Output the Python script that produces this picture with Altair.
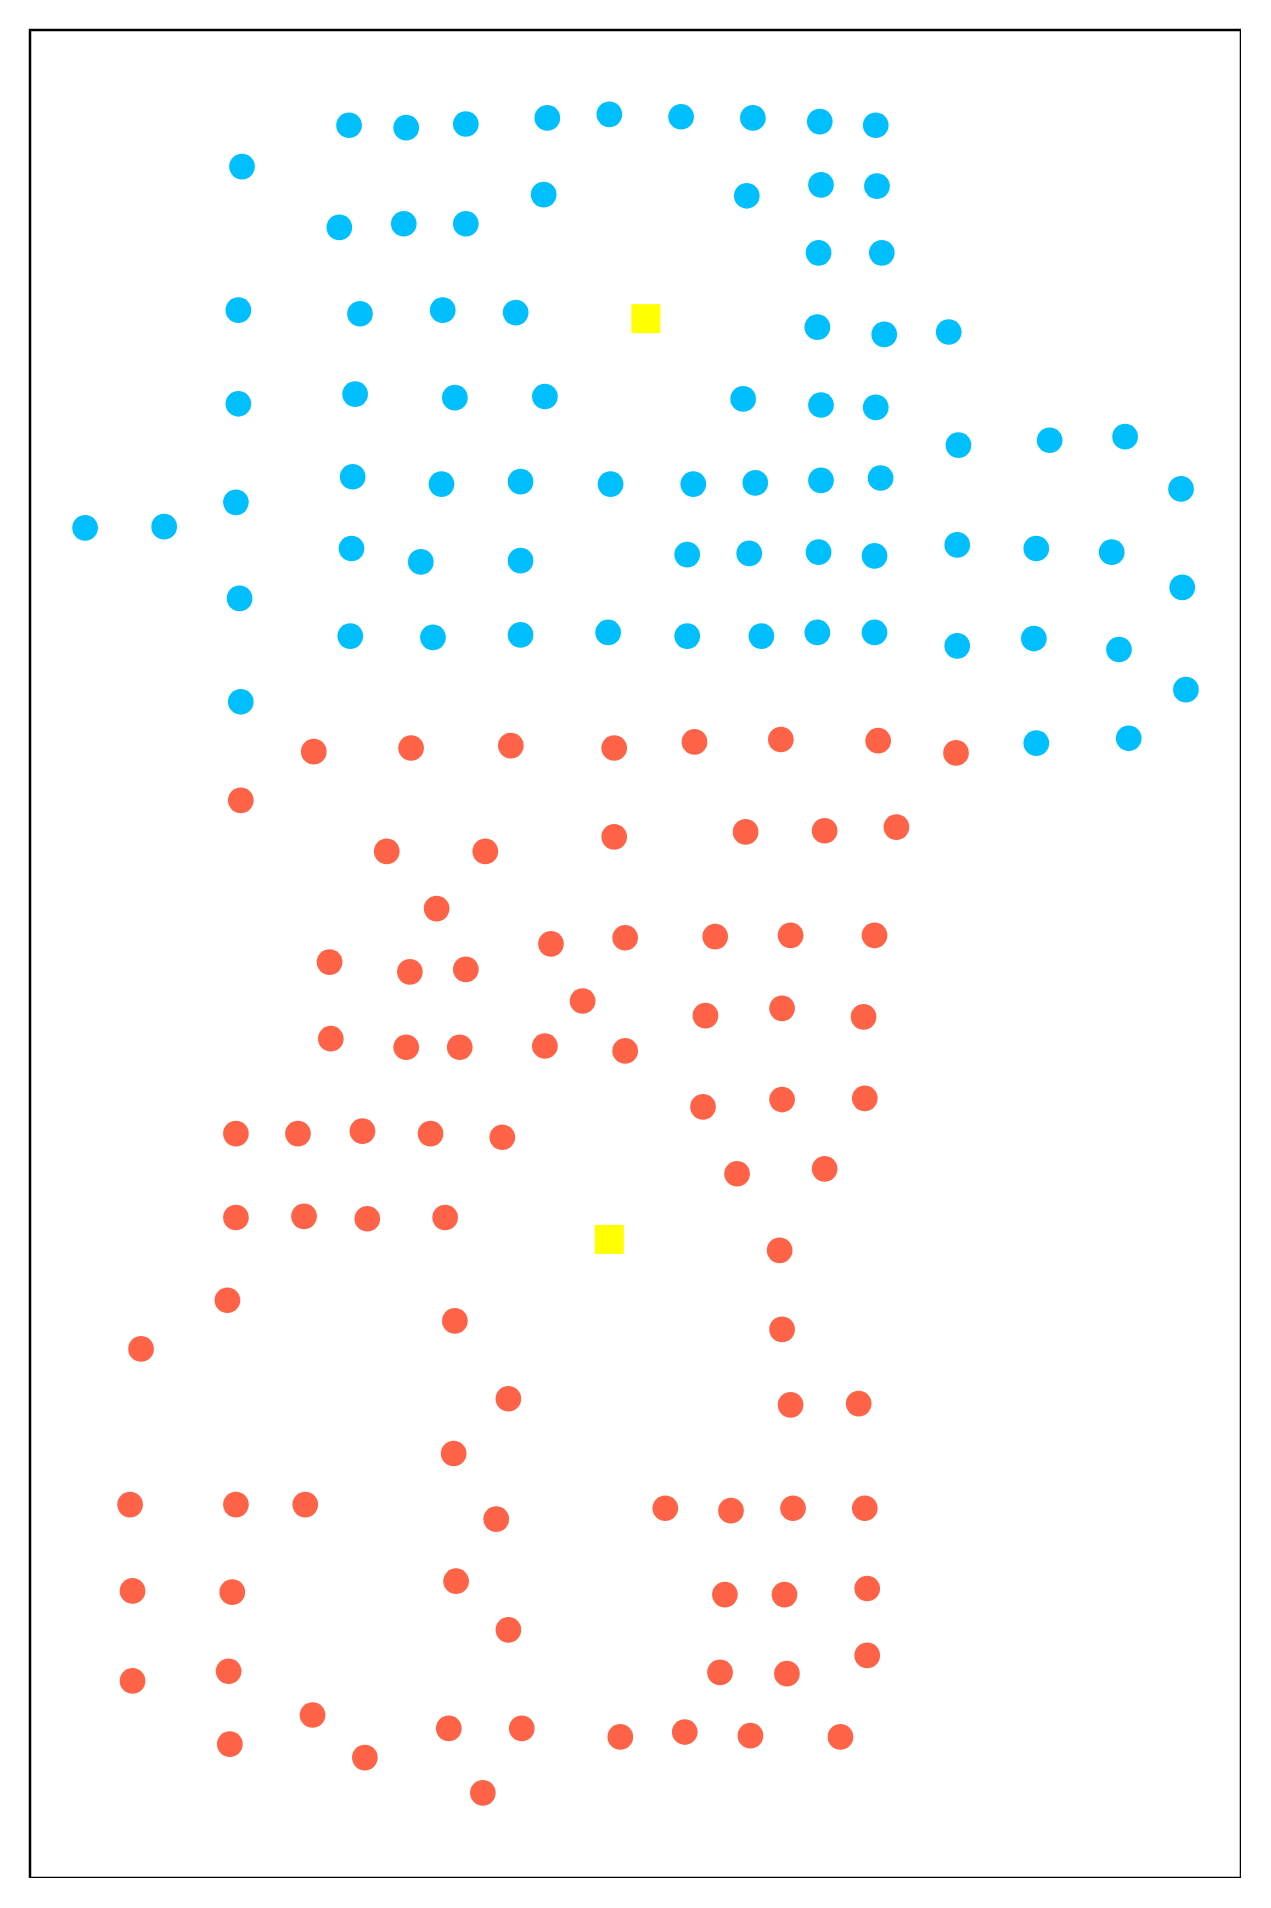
import altair as alt
import pandas as pd

# Cluster A (blue)
blue_x = [287, 334, 383, 450, 501, 560, 619, 674, 720,
          199,
          279, 332, 383, 447, 614, 675, 721,
          673, 725,
          196, 296, 364, 424, 672, 727, 780,
          196, 292, 374, 448, 611, 675, 720,
          788, 863, 925,
          194, 290, 363, 428, 502, 570, 621, 675, 724, 971,
          70, 135,
          289, 346, 428, 565, 616, 673, 719, 787, 852, 914, 972,
          197,
          288, 356, 428, 500, 565, 626, 672, 719, 787, 850, 920, 975,
          198,
          852, 928]
blue_y = [103, 105, 102, 97, 94, 96, 97, 100, 103,
          137,
          187, 184, 184, 160, 161, 152, 153,
          208, 208,
          255, 258, 255, 257, 269, 275, 273,
          332, 324, 327, 326, 328, 333, 335,
          366, 362, 359,
          413, 392, 398, 396, 398, 398, 397, 395, 393, 402,
          434, 433,
          451, 462, 461, 456, 455, 454, 457, 448, 451, 454, 483,
          492,
          523, 524, 522, 520, 523, 523, 520, 520, 531, 525, 534, 567,
          577,
          611, 607]

# Cluster B (red)
red_x = [258, 338, 420, 505, 571, 642, 722, 786,
         198,
         318, 399, 505, 613, 678, 737,
         359,
         271, 337, 383, 453, 514, 588, 650, 719,
         479, 580, 643, 710,
         272, 334, 378, 448, 514,
         578, 643, 711,
         194, 245, 298, 354, 413,
         606, 678,
         194, 250, 302, 366,
         641,
         187, 374, 116,
         643,
         418, 650, 706,
         373,
         107, 194, 251, 408, 547, 601, 652, 711,
         109, 191, 375, 596, 645, 713,
         418,
         109, 188, 592, 647, 713,
         257, 189, 300, 369, 429, 510, 563, 617, 691,
         397]
red_y = [618, 615, 613, 615, 610, 608, 609, 619,
         658,
         700, 700, 688, 684, 683, 680,
         747,
         791, 799, 797, 776, 771, 770, 769, 769,
         823, 835, 829, 836,
         854, 861, 861, 860, 864,
         910, 904, 903,
         932, 932, 930, 932, 935,
         965, 961,
         1001, 1000, 1002, 1001,
         1028,
         1069, 1086, 1109,
         1093,
         1150, 1155, 1154,
         1195,
         1237, 1237, 1237, 1249, 1240, 1242, 1240, 1240,
         1308, 1309, 1300, 1311, 1311, 1306,
         1340,
         1382, 1374, 1375, 1376, 1361,
         1410, 1434, 1445, 1421, 1421, 1428, 1424, 1427, 1428,
         1474]

# Centroids (yellow squares)
cent_x = [531, 501]
cent_y = [262, 1019]

pts = pd.DataFrame({
    "x": blue_x + red_x,
    "y": blue_y + red_y,
    "cluster": ["A"] * len(blue_x) + ["B"] * len(red_x),
})
cent = pd.DataFrame({"x": cent_x, "y": cent_y})

xs = alt.Scale(domain=[24.7, 1020.3], nice=False, zero=False)
ys = alt.Scale(domain=[24.7, 1544.0], nice=False, zero=False, reverse=True)

points = alt.Chart(pts).mark_circle(size=660, opacity=1).encode(
    x=alt.X("x:Q", scale=xs, axis=None),
    y=alt.Y("y:Q", scale=ys, axis=None),
    color=alt.Color("cluster:N",
                    scale=alt.Scale(domain=["A", "B"], range=["#00BFFF", "#FF6347"]),
                    legend=None),
)

centroids = alt.Chart(cent).mark_square(size=841, opacity=1, color="#FFFF00").encode(
    x=alt.X("x:Q", scale=xs, axis=None),
    y=alt.Y("y:Q", scale=ys, axis=None),
)

chart = alt.layer(points, centroids).properties(
    width=1211, height=1848,
    autosize=alt.AutoSizeParams(type="none"),
    padding={"left": 22, "top": 22, "right": 0, "bottom": 0},
).configure_view(stroke="black", strokeWidth=2.5)

chart.save("out.html", embed_options={"renderer": "svg", "actions": False})
